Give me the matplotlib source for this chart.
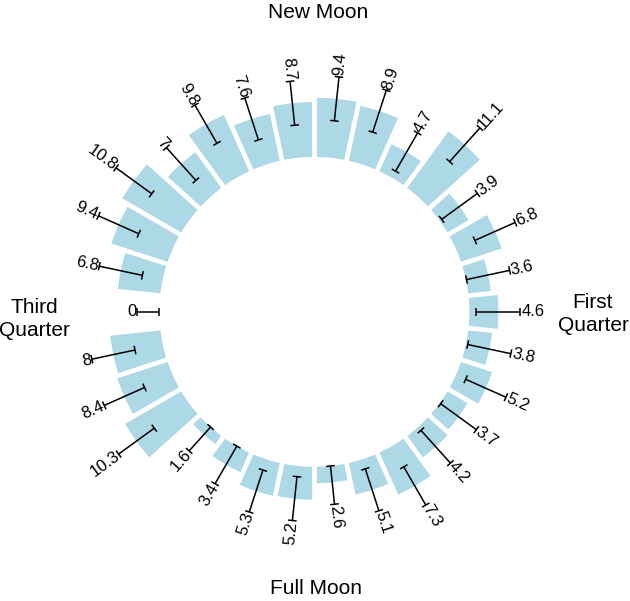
import matplotlib
matplotlib.use("Agg")
import numpy as np
import matplotlib.pyplot as plt

plt.rcParams["font.family"] = ["Liberation Sans", "DejaVu Sans"]

# ---- data (lunar day 1..30, clockwise from New Moon) ----
days = list(range(1, 31))
means = [9.4, 8.9, 4.7, 11.1, 3.9, 6.8, 3.6, 4.6, 3.8, 5.2,
         3.7, 4.2, 7.3, 5.1, 2.6, 5.2, 5.3, 3.4, 1.6, 10.3,
         8.4, 8, 0, 6.8, 9.4, 10.8, 7, 9.8, 7.6, 8.7]
sds = [3.5, 3.5, 3.5, 3.6, 3.5, 3.5, 3.5, 3.5, 3.5, 3.5,
       3.5, 3.5, 3.5, 3.5, 3.5, 3.5, 3.5, 3.5, 3.5, 3.5,
       3.5, 3.5, 3.5, 3.5, 3.5, 3.5, 3.5, 3.5, 3.5, 3.5]
value_labels = [f"{v:g}" for v in means]
phase_names = ["New Moon", "First\nQuarter", "Full Moon", "Third\nQuarter"]

# ---- layout ----
W, H = 630, 601
px_per_unit = 6.3
R_px = 300
cx, cy = 314.3, 311.9          # centre in pixels from top-left
base = 155 / px_per_unit        # inner hole radius in data units

fig = plt.figure(figsize=(W / 100, H / 100), dpi=100)
ax = fig.add_axes([(cx - R_px) / W, (H - cy - R_px) / H, 2 * R_px / W, 2 * R_px / H],
                  projection="polar")
ax.set_theta_zero_location("N")
ax.set_theta_direction(-1)
ax.set_ylim(0, R_px / px_per_unit)
ax.axis("off")

n = len(days)
step = 2 * np.pi / n
theta = (np.array(days) - 0.5) * step

ax.bar(theta, means, width=step, bottom=base, color="#ADD8E6", linewidth=0, zorder=1)
# white separators between bars
bounds = (np.array(days) - 1) * step
ax.vlines(bounds, base - 0.5, base + max(means) + 0.5, colors="white",
          linewidth=3.4, zorder=1.5)

for th, m, s, lab in zip(theta, means, sds, value_labels):
    lo = base + max(0.0, m - s)
    hi = base + m + s
    ax.plot([th, th], [lo, hi], color="black", lw=1.1, zorder=3, solid_capstyle="butt")
    for r in (lo, hi):
        d = 4.3 / (r * px_per_unit)
        ax.plot([th - d, th + d], [r, r], color="black", lw=1.1, zorder=3,
                solid_capstyle="butt")
    deg = np.degrees(th)
    if deg < 180:
        rot, ha = 90 - deg, "left"
    else:
        rot, ha = 270 - deg, "right"
    ax.text(th, hi + 0.15, lab, rotation=rot, rotation_mode="anchor", ha=ha,
            va="center", fontsize=12, color="black", zorder=4)

# phase labels
phase_pos = [(318, 12), (593, 314), (316, 589), (34, 319)]
for name, (px, py) in zip(phase_names, phase_pos):
    fig.text(px / W, 1 - py / H, name, ha="center", va="center", fontsize=15,
             linespacing=1.3, multialignment="center")

fig.savefig("out.png", dpi=100)
